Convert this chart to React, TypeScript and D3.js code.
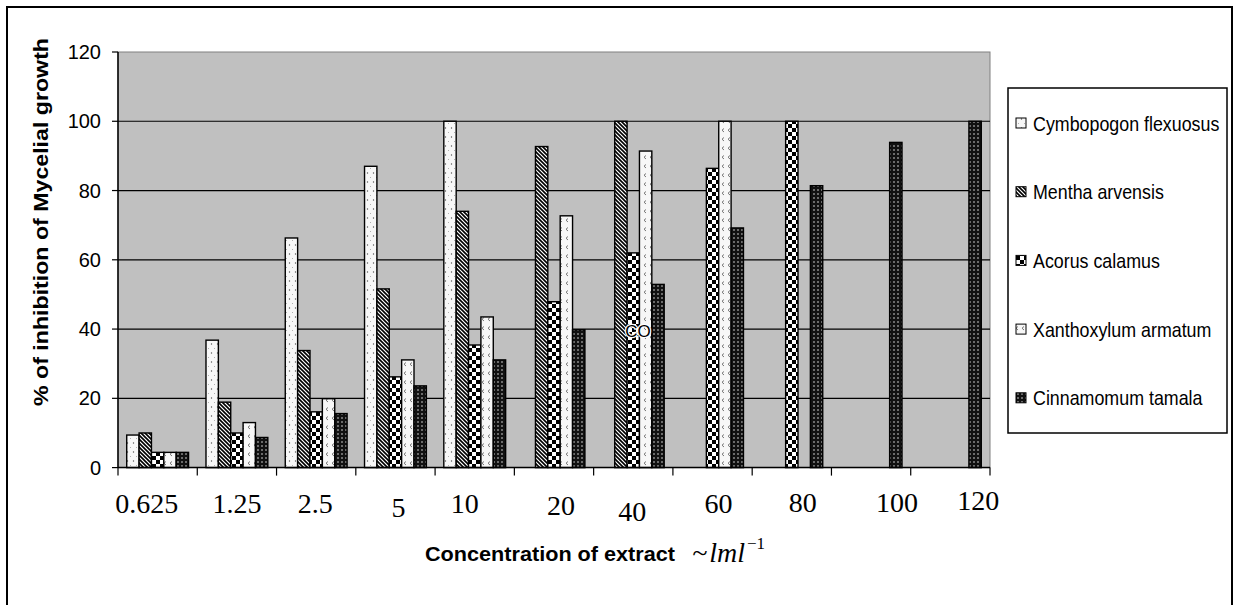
import React, { useEffect, useRef } from 'react';
import * as d3 from 'd3';

// concentrations (x axis)
const categories = ['0.625', '1.25', '2.5', '5', '10', '20', '40', '60', '80', '100', '120'];
const seriesNames = ['Cymbopogon flexuosus', 'Mentha arvensis', 'Acorus calamus', 'Xanthoxylum armatum', 'Cinnamomum tamala'];

// % inhibition (null = no bar)
const cymbopogon = [9.4, 36.8, 66.3, 87, 100, null, null, null, null, null, null];
const mentha = [10, 18.9, 33.8, 51.6, 74, 92.7, 100, null, null, null, null];
const acorus = [4.4, 10, 16.1, 26.2, 35.4, 47.9, 62, 86.4, 100, null, null];
const xanthoxylum = [4.4, 13, 19.9, 31.1, 43.5, 72.7, 91.4, 100, null, null, null];
const cinnamomum = [4.4, 8.7, 15.6, 23.6, 31.1, 39.8, 52.9, 69.2, 81.4, 93.9, 100];

const yTicks = [0, 20, 40, 60, 80, 100, 120];

// hand placed label boxes in the original, small nudges from band centre
const labelNudge = [[-11, 0], [0, 0], [-1, 0], [3, 4], [-10, 0], [7, 2], [-1, 8], [6, 0], [11, -1], [26, -1], [28, -3]];

function App() {
    const ref = useRef(null);

    useEffect(() => {
        const svg = d3.select(ref.current);
        svg.selectAll('*').remove();

        const left = 118, right = 990, top = 52, bottom = 467.6;
        const seriesData = [cymbopogon, mentha, acorus, xanthoxylum, cinnamomum];
        const patternIds = ['pCym', 'pMen', 'pAco', 'pXan', 'pCin'];

        // patterns
        const defs = svg.append('defs');
        const pCym = defs.append('pattern').attr('id', 'pCym').attr('patternUnits', 'userSpaceOnUse').attr('width', 6).attr('height', 9);
        pCym.append('rect').attr('width', 6).attr('height', 9).attr('fill', '#f7f7f7');
        pCym.append('circle').attr('cx', 1.5).attr('cy', 2).attr('r', 0.7).attr('fill', '#555');
        pCym.append('circle').attr('cx', 4.5).attr('cy', 6.5).attr('r', 0.5).attr('fill', '#999');

        const pMen = defs.append('pattern').attr('id', 'pMen').attr('patternUnits', 'userSpaceOnUse').attr('width', 4).attr('height', 4);
        pMen.append('rect').attr('width', 4).attr('height', 4).attr('fill', '#fff');
        pMen.append('path').attr('d', 'M-1,-1 L5,5 M-1,3 L1,5 M3,-1 L5,1').attr('stroke', '#000').attr('stroke-width', 1.6);

        const pAco = defs.append('pattern').attr('id', 'pAco').attr('patternUnits', 'userSpaceOnUse').attr('width', 8).attr('height', 8);
        pAco.append('rect').attr('width', 8).attr('height', 8).attr('fill', '#fff');
        pAco.append('rect').attr('x', 0).attr('y', 0).attr('width', 4).attr('height', 4).attr('fill', '#000');
        pAco.append('rect').attr('x', 4).attr('y', 4).attr('width', 4).attr('height', 4).attr('fill', '#000');

        const pXan = defs.append('pattern').attr('id', 'pXan').attr('patternUnits', 'userSpaceOnUse').attr('width', 6).attr('height', 9);
        pXan.append('rect').attr('width', 6).attr('height', 9).attr('fill', '#f7f7f7');
        pXan.append('path').attr('d', 'M4,2.5 L2,4.2 L4,6').attr('fill', 'none').attr('stroke', '#666').attr('stroke-width', 0.9);

        const pCin = defs.append('pattern').attr('id', 'pCin').attr('patternUnits', 'userSpaceOnUse').attr('width', 4).attr('height', 4);
        pCin.append('rect').attr('width', 4).attr('height', 4).attr('fill', '#111');
        pCin.append('circle').attr('cx', 2).attr('cy', 2).attr('r', 0.8).attr('fill', '#ddd');

        // outer frame (bottom edge runs off the picture)
        svg.append('rect')
            .attr('x', 7).attr('y', 7).attr('width', 1225).attr('height', 700)
            .attr('fill', 'none').attr('stroke', '#000').attr('stroke-width', 2);

        // scales
        const x0 = d3.scaleBand().domain(categories).range([left, right]).paddingInner(0.22).paddingOuter(0.11);
        const xStep = d3.scaleBand().domain(categories).range([left, right]).padding(0);
        const x1 = d3.scaleBand().domain(d3.range(seriesNames.length)).range([0, x0.bandwidth()]);
        const y = d3.scaleLinear().domain([0, 120]).range([bottom, top]);

        // plot area
        svg.append('rect')
            .attr('x', left).attr('y', top).attr('width', right - left).attr('height', bottom - top)
            .attr('fill', '#c0c0c0').attr('stroke', '#808080').attr('stroke-width', 1);

        // grid
        svg.append('g').selectAll('line')
            .data(yTicks.filter(d => d > 0 && d < 120))
            .enter().append('line')
            .attr('x1', left).attr('x2', right)
            .attr('y1', d => y(d)).attr('y2', d => y(d))
            .attr('stroke', '#000').attr('stroke-width', 1.2);

        // bars
        seriesData.forEach(function (vals, si) {
            svg.append('g').selectAll('rect')
                .data(vals.map((v, i) => ({ v, i })).filter(d => d.v != null))
                .enter().append('rect')
                .attr('x', d => x0(categories[d.i]) + x1(si))
                .attr('y', d => y(d.v))
                .attr('width', x1.bandwidth())
                .attr('height', d => y(0) - y(d.v))
                .attr('fill', 'url(#' + patternIds[si] + ')')
                .attr('stroke', '#000').attr('stroke-width', 1.4);
        });

        // stray text in original
        svg.append('text')
            .attr('x', 638).attr('y', 337)
            .attr('text-anchor', 'middle')
            .attr('stroke', '#fff').attr('stroke-width', 2.5).attr('paint-order', 'stroke')
            .style('font-family', '"Liberation Sans", Arial, sans-serif')
            .style('font-size', '17px')
            .text('CO');

        // axes
        svg.append('line').attr('x1', left).attr('x2', left).attr('y1', top).attr('y2', bottom).attr('stroke', '#000').attr('stroke-width', 1.5);
        svg.append('line').attr('x1', left).attr('x2', right).attr('y1', bottom).attr('y2', bottom).attr('stroke', '#000').attr('stroke-width', 1.5);

        // y ticks
        const yt = svg.append('g');
        yt.selectAll('line').data(yTicks).enter().append('line')
            .attr('x1', left - 6).attr('x2', left)
            .attr('y1', d => y(d)).attr('y2', d => y(d))
            .attr('stroke', '#000').attr('stroke-width', 1.2);
        yt.selectAll('text').data(yTicks).enter().append('text')
            .attr('x', 101).attr('y', d => y(d) + 7)
            .attr('text-anchor', 'end')
            .style('font-family', '"Liberation Sans", Arial, sans-serif')
            .style('font-size', '20px')
            .text(d => d);

        // x ticks at band edges
        const edges = categories.map(c => xStep(c)).concat([right]);
        svg.append('g').selectAll('line').data(edges).enter().append('line')
            .attr('x1', d => d).attr('x2', d => d)
            .attr('y1', bottom).attr('y2', bottom + 8)
            .attr('stroke', '#000').attr('stroke-width', 1.2);

        svg.append('g').selectAll('text').data(categories).enter().append('text')
            .attr('x', (d, i) => xStep(d) + xStep.bandwidth() / 2 + labelNudge[i][0])
            .attr('y', (d, i) => 513 + labelNudge[i][1])
            .attr('text-anchor', 'middle')
            .style('font-family', '"Liberation Serif", "Times New Roman", serif')
            .style('font-size', '28px')
            .text(d => d);

        // axis titles
        svg.append('text')
            .attr('transform', 'translate(48,' + 222 + ') rotate(-90)')
            .attr('text-anchor', 'middle')
            .attr('textLength', 368).attr('lengthAdjust', 'spacingAndGlyphs')
            .style('font-family', '"Liberation Sans", Arial, sans-serif')
            .style('font-weight', 'bold')
            .style('font-size', '21px')
            .text('% of inhibition of Mycelial growth');

        svg.append('text')
            .attr('x', 425).attr('y', 561)
            .attr('textLength', 250).attr('lengthAdjust', 'spacingAndGlyphs')
            .style('font-family', '"Liberation Sans", Arial, sans-serif')
            .style('font-weight', 'bold')
            .style('font-size', '21px')
            .text('Concentration of extract');

        const unit = svg.append('text')
            .attr('x', 692).attr('y', 562)
            .style('font-family', '"Liberation Serif", "Times New Roman", serif')
            .style('font-style', 'italic')
            .style('font-size', '28px');
        unit.append('tspan').text('~');
        unit.append('tspan').attr('dx', 2).text('lml');
        unit.append('tspan').attr('dy', -13).attr('dx', 2).style('font-size', '17px').style('font-style', 'normal').text('\u22121');

        // legend
        const lg = svg.append('g');
        lg.append('rect')
            .attr('x', 1008).attr('y', 88).attr('width', 219).attr('height', 345)
            .attr('fill', '#fff').attr('stroke', '#000').attr('stroke-width', 1.5);
        seriesNames.forEach(function (name, i) {
            const cy = 123 + i * 68.7;
            lg.append('rect')
                .attr('x', 1016).attr('y', cy - 5).attr('width', 10).attr('height', 10)
                .attr('fill', 'url(#' + patternIds[i] + ')')
                .attr('stroke', '#000').attr('stroke-width', 1);
            lg.append('text')
                .attr('transform', 'translate(1033,' + (cy + 7.5) + ') scale(0.85,1)')
                .style('font-family', '"Liberation Sans", Arial, sans-serif')
                .style('font-size', '21px')
                .text(name);
        });
    }, []);

    return (
        <svg ref={ref} width={1239} height={605}
            style={{ position: 'absolute', left: 0, top: 0, background: '#fff' }} />
    );
}

export default App;
